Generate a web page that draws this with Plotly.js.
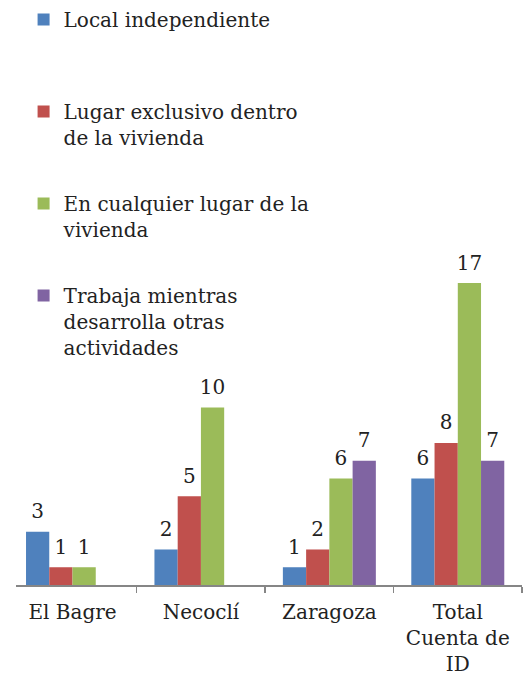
<!DOCTYPE html>
<html>
<head>
<meta charset="utf-8">
<script src="https://cdn.plot.ly/plotly-3.0.1.min.js"></script>
<style>html,body{margin:0;padding:0;background:#fff;}#chart{width:524px;height:675px;}</style>
</head>
<body>
<div id="chart"></div>
<script>
const categories = ["El Bagre", "Necoclí", "Zaragoza", "Total<br>Cuenta de<br>ID"];
const seriesNames = [
  "Local independiente<br> <br> ",
  "Lugar exclusivo dentro<br>de la vivienda<br> ",
  "En cualquier lugar de la<br>vivienda<br> ",
  "Trabaja mientras<br>desarrolla otras<br>actividades"
];
const localIndependiente = [3, 2, 1, 6];
const lugarExclusivo = [1, 5, 2, 8];
const cualquierLugar = [1, 10, 6, 17];
const trabajaMientras = [null, null, 7, 7];
const colors = ["#4F81BD", "#C0504D", "#9BBB59", "#8064A2"];

const seriesValues = [localIndependiente, lugarExclusivo, cualquierLugar, trabajaMientras];
const FONT = "'DejaVu Serif', 'Liberation Serif', serif";

const barTraces = seriesValues.map((vals, i) => ({
  type: "bar",
  x: categories,
  y: vals,
  name: seriesNames[i],
  legendgroup: "g" + i,
  offsetgroup: "g" + i,
  marker: {color: colors[i], line: {width: 0}},
  hoverinfo: "skip"
}));

const labelTraces = seriesValues.map((vals, i) => ({
  type: "scatter",
  mode: "markers+text",
  x: categories,
  y: vals,
  text: vals.map(v => v === null ? "" : String(v)),
  textposition: "top center",
  textfont: {family: FONT, size: 20, color: "#222"},
  marker: {size: 12, color: "rgba(0,0,0,0)"},
  legendgroup: "g" + i,
  offsetgroup: "g" + i,
  showlegend: false,
  cliponaxis: false,
  hoverinfo: "skip"
}));

const layout = {
  width: 524,
  height: 675,
  margin: {l: 16, r: 2, t: 260, b: 90, autoexpand: false},
  paper_bgcolor: "#fff",
  plot_bgcolor: "#fff",
  barmode: "group",
  bargap: 0.276,
  bargroupgap: 0,
  scattermode: "group",
  scattergap: 0.276,
  font: {family: FONT, size: 20, color: "#222"},
  xaxis: {
    type: "category",
    range: [-0.44, 3.5],
    automargin: false,
    tickangle: 0,
    showline: true,
    linecolor: "#868686",
    linewidth: 1.5,
    ticks: "outside",
    tickson: "boundaries",
    ticklen: 6,
    tickwidth: 1.5,
    tickcolor: "#868686",
    showgrid: false,
    zeroline: false,
    ticklabelstandoff: 8,
    tickfont: {family: FONT, size: 20, color: "#222"}
  },
  yaxis: {
    range: [0, 18.3],
    visible: false,
    automargin: false,
    showgrid: false,
    zeroline: false
  },
  showlegend: true,
  legend: {
    xref: "container",
    yref: "container",
    x: 0.045,
    y: 1,
    xanchor: "left",
    yanchor: "top",
    valign: "top",
    traceorder: "grouped",
    tracegroupgap: 11,
    maxheight: 675,
    bgcolor: "rgba(0,0,0,0)",
    font: {family: FONT, size: 20, color: "#222"}
  }
};

Plotly.newPlot("chart", barTraces.concat(labelTraces), layout, {displayModeBar: false, staticPlot: true});
</script>
</body>
</html>
